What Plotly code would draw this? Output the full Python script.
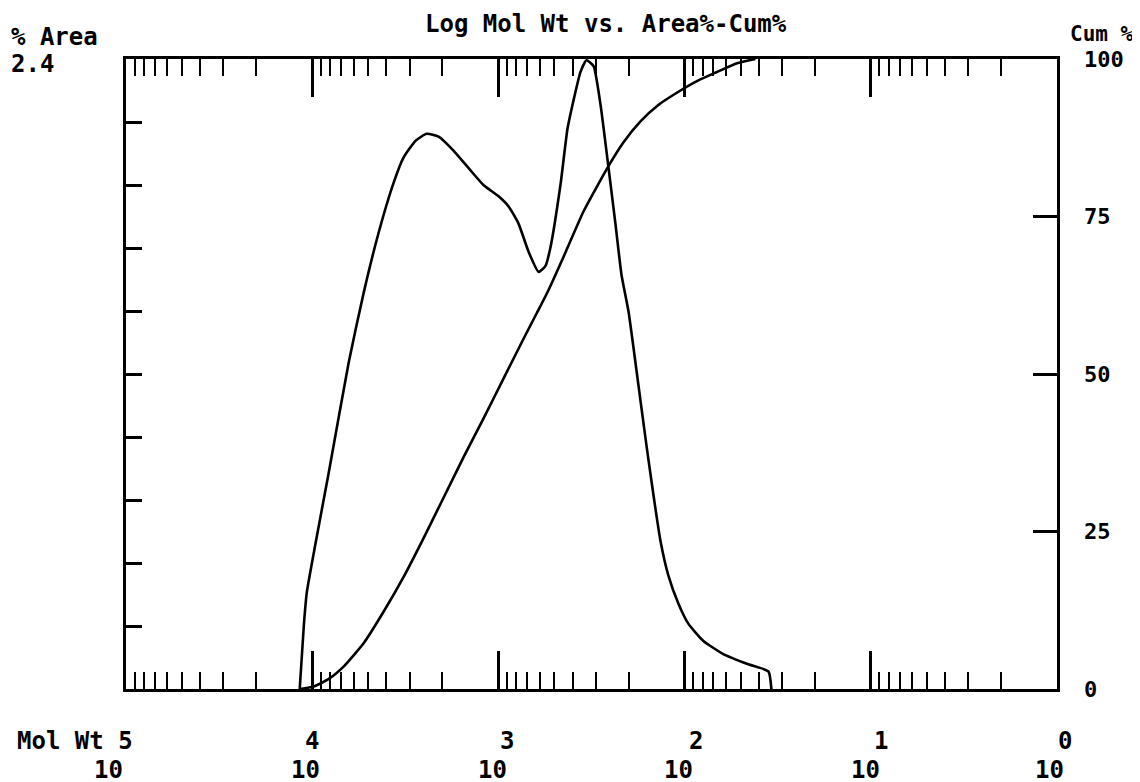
import numpy as np
import plotly.graph_objects as go

# ---- data ----
log_mw_area = [4.067, 4.045, 4.029, 3.981, 3.911, 3.804, 3.723, 3.643, 3.562, 3.509,
               3.444, 3.385, 3.321, 3.240, 3.160, 3.079, 2.999, 2.945, 2.892, 2.838,
               2.784, 2.747, 2.720, 2.666, 2.629, 2.597, 2.559, 2.527, 2.489, 2.452,
               2.409, 2.371, 2.339, 2.301, 2.248, 2.205, 2.167, 2.130, 2.087, 2.033,
               1.980, 1.899, 1.792, 1.658, 1.550, 1.534]
area_pct = [0.0, 0.242, 0.368, 0.559, 0.825, 1.244, 1.511, 1.739, 1.930, 2.025,
            2.089, 2.115, 2.104, 2.050, 1.984, 1.919, 1.877, 1.838, 1.773, 1.666,
            1.589, 1.612, 1.684, 1.924, 2.134, 2.241, 2.351, 2.395, 2.373, 2.228,
            1.988, 1.770, 1.578, 1.437, 1.158, 0.929, 0.738, 0.566, 0.432, 0.325,
            0.249, 0.183, 0.133, 0.094, 0.067, 0.0]

log_mw_cum = [4.067, 3.991, 3.911, 3.830, 3.723, 3.616, 3.509, 3.401, 3.294, 3.187,
              3.079, 2.972, 2.865, 2.795, 2.731, 2.650, 2.543, 2.409, 2.328, 2.237,
              2.141, 2.033, 1.926, 1.829, 1.722, 1.620]
cum_pct = [0.0, 0.4, 1.6, 3.6, 7.3, 12.3, 17.8, 24.0, 30.4, 36.8,
           43.0, 49.3, 55.6, 59.6, 63.3, 68.6, 75.8, 83.0, 86.8, 90.1,
           92.7, 94.8, 96.6, 97.9, 99.3, 100.0]

decades = [5, 4, 3, 2, 1, 0]
exp_shift = {5: 9, 4: 0, 3: 9, 2: 11, 1: 10, 0: 8}
ten_shift = {5: -18, 4: -7, 3: -6, 2: -6, 1: -5, 0: -8}
area_ticks = [0.24 * i for i in range(1, 10)]
cum_ticks = [0, 25, 50, 75, 100]
cum_labels = ["0", "25", "50", "75", "100"]

title_text = "Log Mol Wt vs. Area%-Cum%"

FONT = dict(family="DejaVu Sans Mono", size=24, color="black", weight="bold")
FONT_S = dict(family="DejaVu Sans Mono", size=22, color="black", weight="bold")
FONT_C = dict(family="DejaVu Sans Mono", size=21, color="black", weight="bold")

minor_vals = [n + np.log10(k) for n in range(0, 5) for k in range(2, 10)]

fig = go.Figure()
fig.add_trace(go.Scatter(x=log_mw_area, y=area_pct, mode="lines",
                         line=dict(color="black", width=2.6, shape="spline", smoothing=0.5),
                         yaxis="y"))
fig.add_trace(go.Scatter(x=log_mw_cum, y=cum_pct, mode="lines",
                         line=dict(color="black", width=2.6, shape="spline", smoothing=0.5),
                         yaxis="y2"))

fig.update_layout(
    width=1140, height=782,
    margin=dict(l=118, r=91, t=51, b=101),
    plot_bgcolor="white", paper_bgcolor="white",
    showlegend=False,
    font=FONT,
    xaxis=dict(range=[5, 0], showgrid=False, zeroline=False,
               showline=True, linecolor="black", linewidth=3, mirror="ticks",
               ticks="inside", tickvals=[1, 2, 3, 4], ticklen=38, tickwidth=2.5,
               tickcolor="black", showticklabels=False,
               minor=dict(tickvals=minor_vals, ticks="inside", ticklen=17,
                          tickwidth=2, tickcolor="black", showgrid=False)),
    yaxis=dict(range=[0, 2.4], showgrid=False, zeroline=False,
               showline=True, linecolor="black", linewidth=3, mirror=True,
               ticks="inside", tickvals=area_ticks, ticklen=16, tickwidth=2.5,
               tickcolor="black", showticklabels=False),
    yaxis2=dict(range=[0, 100], overlaying="y", side="right",
                showgrid=False, zeroline=False, showline=False,
                ticks="inside", tickvals=cum_ticks, ticktext=cum_labels,
                ticklen=24, tickwidth=2.5, tickcolor="black",
                ticklabelstandoff=26, tickfont=FONT_S),
)

ann = []
ann.append(dict(text=title_text, xref="paper", yref="paper", x=0.516, y=1,
                yshift=35, xanchor="center", yanchor="middle", showarrow=False, font=FONT))
ann.append(dict(text="% Area", xref="paper", yref="paper", x=0, y=1, xshift=-117,
                yshift=22, xanchor="left", yanchor="middle", showarrow=False, font=FONT))
ann.append(dict(text="2.4", xref="paper", yref="paper", x=0, y=1, xshift=-117,
                yshift=-5, xanchor="left", yanchor="middle", showarrow=False, font=FONT))
ann.append(dict(text="Cum %", xref="paper", yref="paper", x=1, y=1, xshift=79,
                yshift=25, xanchor="right", yanchor="middle", showarrow=False, font=FONT_C))

for d in decades:
    if d == 5:
        ann.append(dict(text="Mol Wt 5", x=d, xref="x", yref="paper", y=0,
                        xshift=exp_shift[d], yshift=-52, xanchor="right", yanchor="middle",
                        showarrow=False, font=FONT))
    else:
        ann.append(dict(text=str(d), x=d, xref="x", yref="paper", y=0,
                        xshift=exp_shift[d], yshift=-52, xanchor="center", yanchor="middle",
                        showarrow=False, font=FONT))
    ann.append(dict(text="10", x=d, xref="x", yref="paper", y=0,
                    xshift=ten_shift[d], yshift=-81, xanchor="center", yanchor="middle",
                    showarrow=False, font=FONT))

fig.update_layout(annotations=ann)
fig.write_html("out.html")
